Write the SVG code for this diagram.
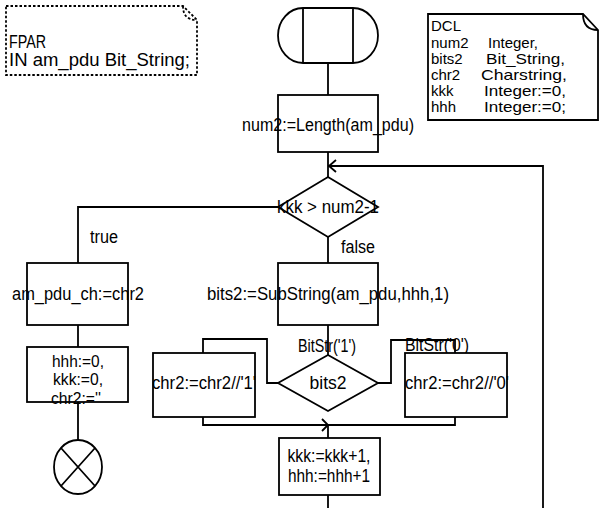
<svg xmlns="http://www.w3.org/2000/svg" width="606" height="508" viewBox="0 0 606 508">
<style>
.s{fill:#fff;stroke:#000;stroke-width:1.8}
.l{fill:none;stroke:#000;stroke-width:1.8}
.d{fill:none;stroke:#000;stroke-width:1.8;stroke-dasharray:2.5 2}
text{font-family:"Liberation Sans",Arial,sans-serif;font-size:17.5px;fill:#000}
.k{font-size:15px}
.r{font-size:16px}
.c{text-anchor:middle}
</style>
<rect width="606" height="508" fill="#fff"/>
<g id="fpar">
<path class="d" d="M6,6 H183 L197,20 V75 H6 Z"/>
<path class="d" d="M183,6 C183,14 186,20 197,20"/>
<text x="9" y="48" textLength="37" lengthAdjust="spacingAndGlyphs">FPAR</text>
<text x="9" y="66" textLength="181" lengthAdjust="spacingAndGlyphs">IN am_pdu Bit_String;</text>
</g>
<g id="dcl">
<path class="s" d="M428,14 H583 L598,30 V120 H428 Z"/>
<path class="l" d="M583,14 C583,23 587,30 598,30"/>
<text class="k" x="431" y="31">DCL</text>
<text class="k" x="431" y="48">num2</text><text class="k" x="488" y="48">Integer,</text>
<text class="k" x="431" y="64">bits2</text><text class="k" x="486" y="64" textLength="79" lengthAdjust="spacingAndGlyphs">Bit_String,</text>
<text class="k" x="431" y="80">chr2</text><text class="k" x="481" y="80" textLength="86" lengthAdjust="spacingAndGlyphs">Charstring,</text>
<text class="k" x="431" y="96">kkk</text><text class="k" x="484" y="96" textLength="82" lengthAdjust="spacingAndGlyphs">Integer:=0,</text>
<text class="k" x="431" y="112">hhh</text><text class="k" x="484" y="112" textLength="82" lengthAdjust="spacingAndGlyphs">Integer:=0;</text>
</g>
<g id="connectors">
<path class="l" d="M328,63 V95"/>
<path class="l" d="M328,152 V177"/>
<path class="l" d="M543,508 V166 H328"/>
<path class="l" d="M336,160 L329,166 L336,172"/>
<path class="l" d="M278,207 H78 V263"/>
<path class="l" d="M78,325 V347"/>
<path class="l" d="M78,402 V440"/>
<path class="l" d="M328,237 V263"/>
<path class="l" d="M328,325 V355"/>
<path class="l" d="M278,383 H267 V339 H203 V353"/>
<path class="l" d="M378,383 H391 V340 H455 V353"/>
<path class="l" d="M203,417 V425 H455 V417"/>
<path class="l" d="M322,419 L328,425 L322,431"/>
<path class="l" d="M328,425 V438"/>
<path class="l" d="M328,495 V508"/>
</g>
<g id="start">
<path class="s" d="M303,8 H353 A25,27.5 0 0 1 353,63 H303 A25,27.5 0 0 1 303,8 Z"/>
<path class="l" d="M303,8 V63 M353,8 V63"/>
</g>
<g id="n_len">
<rect class="s" x="278" y="95" width="100" height="57"/>
<text class="c" x="328" y="131" textLength="172" lengthAdjust="spacingAndGlyphs">num2:=Length(am_pdu)</text>
</g>
<g id="dec1">
<path class="s" d="M328,177 L378,207 L328,237 L278,207 Z"/>
<text class="c" x="328" y="213" textLength="102" lengthAdjust="spacingAndGlyphs">kkk &gt; num2-1</text>
<text x="90" y="243" textLength="28" lengthAdjust="spacingAndGlyphs">true</text>
<text x="341" y="253" textLength="34" lengthAdjust="spacingAndGlyphs">false</text>
</g>
<g id="n_chr">
<rect class="s" x="27" y="263" width="101" height="62"/>
<text class="c" x="78" y="300" textLength="132" lengthAdjust="spacingAndGlyphs">am_pdu_ch:=chr2</text>
</g>
<g id="n_reset">
<rect class="s" x="27" y="347" width="101" height="55"/>
<text class="c r" x="78" y="367" textLength="52" lengthAdjust="spacingAndGlyphs">hhh:=0,</text>
<text class="c r" x="78" y="385" textLength="50" lengthAdjust="spacingAndGlyphs">kkk:=0,</text>
<text class="c r" x="76" y="404" textLength="50" lengthAdjust="spacingAndGlyphs">chr2:=''</text>
</g>
<g id="stop">
<ellipse class="s" cx="78" cy="467" rx="24" ry="27"/>
<path class="l" d="M61,448 L95,486 M95,448 L61,486"/>
</g>
<g id="n_sub">
<rect class="s" x="278" y="263" width="100" height="62"/>
<text class="c" x="328" y="300" textLength="242" lengthAdjust="spacingAndGlyphs">bits2:=SubString(am_pdu,hhh,1)</text>
</g>
<g id="dec2">
<path class="s" d="M328,355 L378,383 L328,411 L278,383 Z"/>
<text class="c" x="328" y="389" textLength="37" lengthAdjust="spacingAndGlyphs">bits2</text>
<text class="c" x="327" y="352" textLength="58" lengthAdjust="spacingAndGlyphs">BitStr('1')</text>
<text x="405" y="351" textLength="64" lengthAdjust="spacingAndGlyphs">BitStr('0')</text>
</g>
<g id="n_c1">
<rect class="s" x="153" y="353" width="102" height="64"/>
<text class="c" x="204" y="389" textLength="104" lengthAdjust="spacingAndGlyphs">chr2:=chr2//'1'</text>
</g>
<g id="n_c0">
<rect class="s" x="405" y="353" width="102" height="64"/>
<text class="c" x="457" y="389" textLength="104" lengthAdjust="spacingAndGlyphs">chr2:=chr2//'0'</text>
</g>
<g id="n_inc">
<rect class="s" x="279" y="438" width="101" height="57"/>
<text class="c" x="329" y="462" textLength="83" lengthAdjust="spacingAndGlyphs">kkk:=kkk+1,</text>
<text class="c" x="329" y="482" textLength="82" lengthAdjust="spacingAndGlyphs">hhh:=hhh+1</text>
</g>
</svg>
